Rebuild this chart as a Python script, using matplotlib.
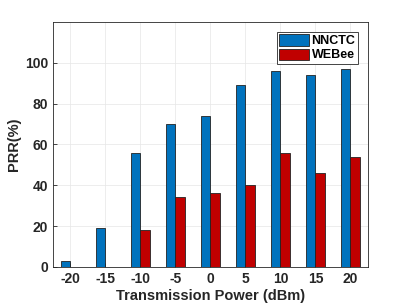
import numpy as np
from matplotlib import pyplot as plt

power = ['-20', '-15', '-10', '-5', '0', '5', '10', '15', '20']
nnctc = [3, 19, 56, 70, 74, 89, 96, 94, 97]
webee = [0, 0, 18, 34, 36, 40, 56, 46, 54]

plt.rcParams['font.family'] = ['Liberation Sans', 'DejaVu Sans']
plt.rcParams['font.weight'] = 'bold'

fig = plt.figure(figsize=(4.07, 3.05), dpi=100)
ax = fig.add_axes([0.130, 0.125, 0.774, 0.803])

x = np.arange(1, len(power) + 1)
w = 0.28
ax.bar(x - w / 2, nnctc, w, color='#0072BD', edgecolor='#222222', linewidth=0.6,
       label='NNCTC', zorder=3)
ax.bar(x + w / 2, webee, w, color='#C00000', edgecolor='#222222', linewidth=0.6,
       label='WEBee', zorder=3)

ax.set_xlim(0.5, 9.5)
ax.set_ylim(0, 120)
ax.set_xticks(x)
ax.set_xticklabels(power)
ax.set_yticks(range(0, 101, 20))
ax.grid(True, color='#e6e6e6', linewidth=0.5, zorder=0)
ax.set_axisbelow(True)
ax.tick_params(direction='in', length=3, labelsize=10, colors='#262626', width=0.6)
for s in ax.spines.values():
    s.set_color('#262626')
    s.set_linewidth(0.6)
ax.set_xlabel('Transmission Power (dBm)', fontsize=10.5, fontweight='bold', color='#262626',
              labelpad=2)
ax.set_ylabel('PRR(%)', fontsize=10.5, fontweight='bold', color='#262626', labelpad=3)

leg = ax.legend(loc='upper right', fontsize=9, fancybox=False, framealpha=1,
                edgecolor='#262626', handlelength=2.4, handleheight=1.0,
                borderpad=0.2, labelspacing=0.1, handletextpad=0.2,
                borderaxespad=0.8)
leg.get_frame().set_linewidth(0.6)
for t in leg.get_texts():
    t.set_fontweight('bold')

fig.savefig('out.png', dpi=100)
